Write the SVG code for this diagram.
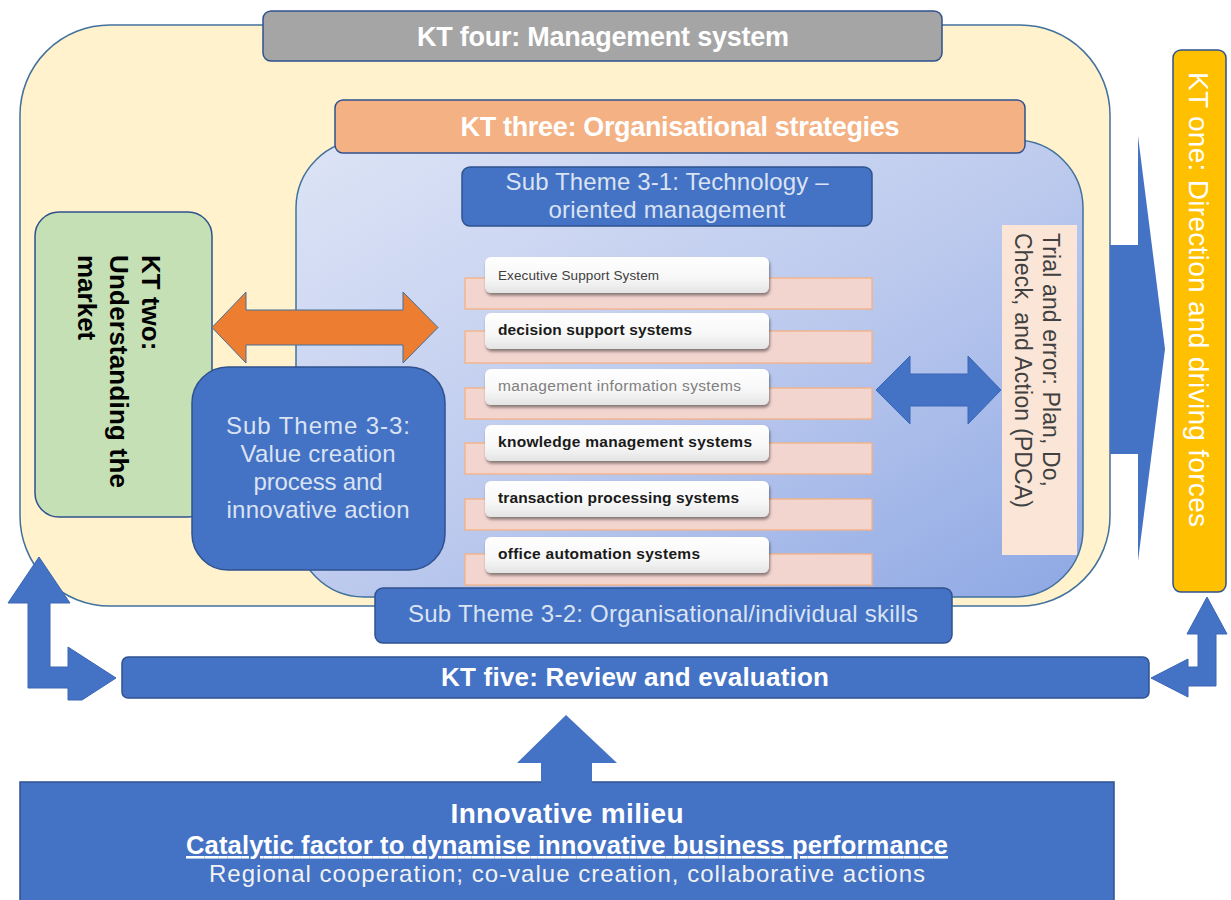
<svg xmlns="http://www.w3.org/2000/svg" width="1231" height="900" viewBox="0 0 1231 900">
<defs>
<linearGradient id="lav" x1="0" y1="0" x2="1" y2="1">
<stop offset="0" stop-color="#DDE4F6"/>
<stop offset="0.5" stop-color="#BECBEE"/>
<stop offset="1" stop-color="#8EA8E4"/>
</linearGradient>
<linearGradient id="tabg" x1="0" y1="0" x2="0" y2="1">
<stop offset="0" stop-color="#FFFFFF"/>
<stop offset="0.6" stop-color="#F7F7F7"/>
<stop offset="1" stop-color="#E4E4E4"/>
</linearGradient>
<filter id="sh" x="-5%" y="-20%" width="110%" height="150%">
<feDropShadow dx="1" dy="2.5" stdDeviation="1.5" flood-color="#000" flood-opacity="0.45"/>
</filter>
</defs>
<style>
text{font-family:"Liberation Sans",Arial,sans-serif}
.bx{stroke:#2F528F;stroke-width:1.5}
.blue{fill:#4472C4}
.hd{font-weight:bold;fill:#FFFFFF;text-anchor:middle}
.sub{fill:#DAE3F3;font-size:24px;text-anchor:middle}
.pink{fill:#F3D5D0;stroke:#F4B183;stroke-width:1.3}
.tab{fill:url(#tabg);filter:url(#sh)}
.it{font-size:15.5px;font-weight:bold;fill:#1A1A1A}
.arr{fill:#4472C4;stroke:#3A66B5;stroke-width:1}
</style>

<g id="kt4-container">
<rect x="20" y="25" width="1090" height="581" rx="90" ry="90" fill="#FFF2CC" stroke="#41719C" stroke-width="1.5"/>
</g>
<g id="kt4">
<rect class="bx" x="263" y="11" width="679" height="50" rx="8" fill="#A5A5A5"/>
<text class="hd" x="603" y="46" font-size="27" textLength="372">KT four: Management system</text>
</g>
<g id="kt3-container">
<rect x="296" y="140" width="787" height="457" rx="68" ry="68" fill="url(#lav)" stroke="#41719C" stroke-width="1.5"/>
</g>
<g id="kt3">
<rect class="bx" x="335" y="100" width="690" height="53" rx="8" fill="#F4B183"/>
<text class="hd" x="680" y="136" font-size="27" textLength="439">KT three: Organisational strategies</text>
</g>
<g id="sub31">
<rect class="bx blue" x="462" y="167" width="410" height="59" rx="8"/>
<text class="sub" x="667" y="190" textLength="323">Sub Theme 3-1: Technology –</text>
<text class="sub" x="667" y="218" textLength="237">oriented management</text>
</g>
<g id="kt2">
<rect class="bx" x="35" y="212" width="177" height="305" rx="24" fill="#C5E0B4"/>
<g font-size="26" font-weight="bold" fill="#000">
<text transform="translate(142,255) rotate(90)">KT two:</text>
<text transform="translate(110,255) rotate(90)" textLength="233">Understanding the</text>
<text transform="translate(78,255) rotate(90)">market</text>
</g>
</g>
<g id="sub33">
<rect class="bx blue" x="192" y="367" width="253" height="203" rx="36"/>
<text class="sub" x="318" y="434" textLength="184">Sub Theme 3-3:</text>
<text class="sub" x="318" y="462" textLength="155">Value creation</text>
<text class="sub" x="318" y="490" textLength="129">process and</text>
<text class="sub" x="318" y="518" textLength="183">innovative action</text>
</g>
<g id="systems">
<rect class="pink" x="465" y="278" width="407" height="31"/>
<rect class="pink" x="465" y="331" width="407" height="32"/>
<rect class="pink" x="465" y="388" width="407" height="31"/>
<rect class="pink" x="465" y="443" width="407" height="31"/>
<rect class="pink" x="465" y="499" width="407" height="31"/>
<rect class="pink" x="465" y="554" width="407" height="31"/>
<g id="sys-ess"><rect class="tab" x="485" y="257" width="284" height="36" rx="6"/>
<text x="498" y="280" font-size="13.5" fill="#404040" textLength="161">Executive Support System</text></g>
<g id="sys-dss"><rect class="tab" x="485" y="313" width="284" height="36" rx="6"/>
<text class="it" x="498" y="335" textLength="194">decision support systems</text></g>
<g id="sys-mis"><rect class="tab" x="485" y="369" width="284" height="36" rx="6"/>
<text x="498" y="391" font-size="15.5" fill="#7F7F7F" textLength="243">management information systems</text></g>
<g id="sys-kms"><rect class="tab" x="485" y="425" width="284" height="36" rx="6"/>
<text class="it" x="498" y="447" textLength="254">knowledge management systems</text></g>
<g id="sys-tps"><rect class="tab" x="485" y="481" width="284" height="36" rx="6"/>
<text class="it" x="498" y="503" textLength="241">transaction processing systems</text></g>
<g id="sys-oas"><rect class="tab" x="485" y="537" width="284" height="36" rx="6"/>
<text class="it" x="498" y="559" textLength="202">office automation systems</text></g>
</g>
<g id="pdca">
<rect x="1002" y="225" width="75" height="330" fill="#FBE5D6"/>
<g font-size="23" fill="#404040">
<text transform="translate(1043,233) rotate(90)" textLength="254">Trial and error: Plan, Do,</text>
<text transform="translate(1015,233) rotate(90)" textLength="275">Check, and Action (PDCA)</text>
</g>
</g>
<g id="kt1">
<rect class="bx" x="1173" y="50" width="53" height="542" rx="8" fill="#FFC000"/>
<text transform="translate(1189,72) rotate(90)" font-size="28" fill="#FFFFFF" textLength="455">KT one: Direction and driving forces</text>
</g>
<g id="sub32">
<rect class="bx blue" x="375" y="588" width="577" height="55" rx="8"/>
<text class="sub" x="663" y="622" textLength="510">Sub Theme 3-2: Organisational/individual skills</text>
</g>
<g id="kt5">
<rect class="bx blue" x="122" y="657" width="1027" height="41" rx="6"/>
<text class="hd" x="635" y="686" font-size="26" textLength="388">KT five: Review and evaluation</text>
</g>
<g id="milieu">
<rect class="bx blue" x="20" y="782" width="1094" height="125"/>
<text class="hd" x="567" y="823" font-size="28" textLength="233">Innovative milieu</text>
<text class="hd" x="567" y="854" font-size="25.5" textLength="762" text-decoration="underline">Catalytic factor to dynamise innovative business performance</text>
<text x="567" y="882" font-size="24" fill="#F2F2F2" text-anchor="middle" textLength="716">Regional cooperation; co-value creation, collaborative actions</text>
</g>

<g id="connectors">
<polygon points="212,327.5 246,292 246,310 403,310 403,292 438,327.5 403,363 403,345 246,345 246,363" fill="#ED7D31" stroke="#41719C" stroke-width="1"/>
<polygon class="arr" points="876,390 910,356 910,374 968,374 968,356 1001,390 968,424 968,406 910,406 910,424"/>
<polygon points="1110,245 1138,245 1138,136 1165,349 1138,561 1138,454 1110,454" fill="#4472C4"/>
<polygon class="arr" points="39,557 70,603 50,603 50,667 68,667 68,647 116,678 82,700 68,700 68,688 28,688 28,603 8,603"/>
<polygon class="arr" points="1207,597 1227,634 1216,634 1216,686 1188,686 1188,697 1151,678 1188,659 1188,667 1198,667 1198,634 1187,634"/>
<polygon points="566,715 617,763 592,763 592,783 541,783 541,763 517,763" fill="#4472C4"/>
</g>
</svg>
